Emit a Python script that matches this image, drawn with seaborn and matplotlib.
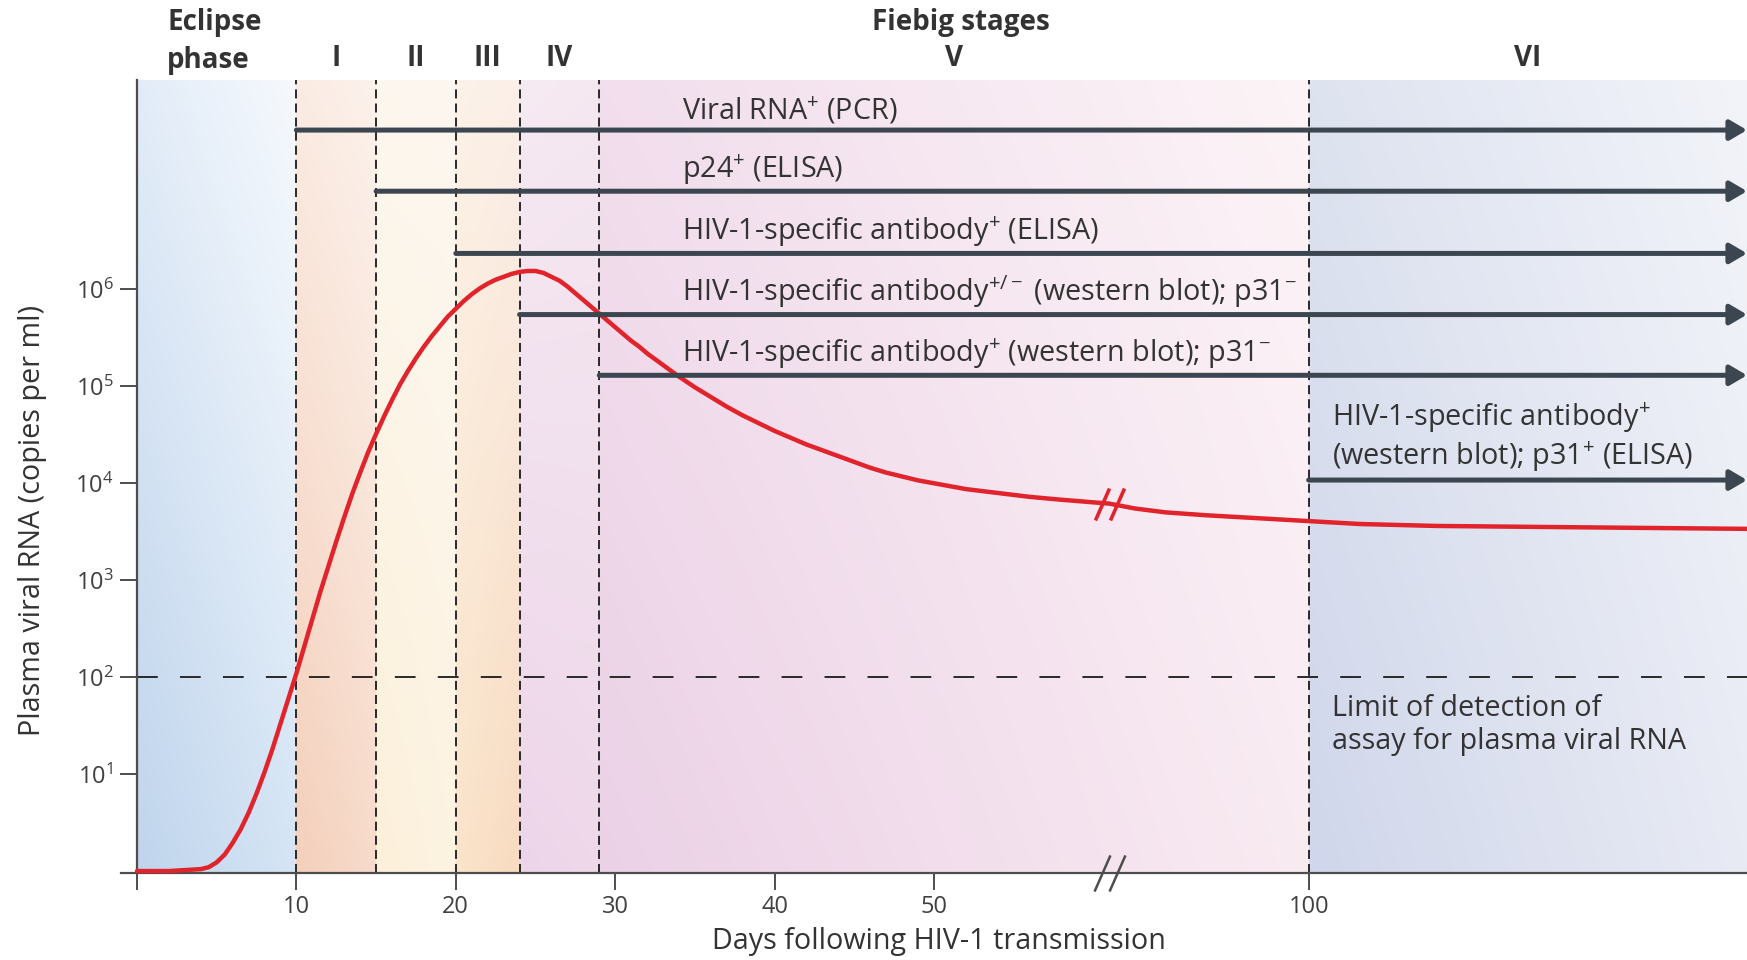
import numpy as np
import matplotlib
matplotlib.use("Agg")
import matplotlib.pyplot as plt
import seaborn as sns
from matplotlib.colors import to_rgb
from matplotlib.ticker import FixedLocator, NullLocator, LogFormatterMathtext
from matplotlib.transforms import blended_transform_factory, offset_copy

# plasma viral RNA curve (day, log10 copies per ml)
days = [0, 2, 4, 4.5, 5, 5.5, 6, 6.5, 7, 7.5, 8, 8.5, 9, 9.5, 10, 10.5, 11,
        11.5, 12, 12.5, 13, 13.5, 14, 14.5, 15, 15.5, 16, 16.5, 17, 17.5, 18,
        18.5, 19, 19.5, 20, 20.5, 21, 21.5, 22, 22.5, 23, 23.5, 24, 24.5, 25,
        25.5, 26, 26.5, 27, 27.5, 28, 28.5, 29, 29.5, 30, 30.5, 31, 31.5, 32,
        32.5, 33, 33.5, 34, 35, 36, 37, 38, 39, 40, 41, 42, 43, 44, 45, 46,
        47, 48, 49, 50, 52, 54, 56, 58, 61, 66, 72, 80, 90, 100, 110, 125,
        145, 165, 186]
log_rna = [0.0, 0.0, 0.02, 0.04, 0.09, 0.17, 0.29, 0.43, 0.6, 0.8, 1.02, 1.26,
           1.52, 1.78, 2.04, 2.32, 2.6, 2.88, 3.14, 3.4, 3.65, 3.89, 4.11,
           4.32, 4.51, 4.69, 4.86, 5.02, 5.16, 5.29, 5.41, 5.52, 5.62, 5.72,
           5.8, 5.88, 5.95, 6.01, 6.06, 6.1, 6.13, 6.16, 6.18, 6.19, 6.19,
           6.17, 6.13, 6.09, 6.03, 5.96, 5.89, 5.82, 5.75, 5.68, 5.61, 5.54,
           5.47, 5.41, 5.34, 5.28, 5.22, 5.16, 5.1, 4.99, 4.89, 4.79, 4.70,
           4.62, 4.54, 4.47, 4.40, 4.34, 4.28, 4.22, 4.16, 4.11, 4.07, 4.03,
           4.0, 3.94, 3.9, 3.86, 3.83, 3.79, 3.74, 3.70, 3.67, 3.64, 3.61,
           3.58, 3.56, 3.55, 3.54, 3.53]

# Fiebig stages (day each stage starts)
stage_names = ['I', 'II', 'III', 'IV', 'V', 'VI']
stage_starts = [10, 15, 20, 24, 29, 100]

# assay positivity arrows
assay_labels = [
    'Viral RNA$^{+}$ (PCR)',
    'p24$^{+}$ (ELISA)',
    'HIV-1-specific antibody$^{+}$ (ELISA)',
    'HIV-1-specific antibody$^{+/-}$ (western blot); p31$^{-}$',
    'HIV-1-specific antibody$^{+}$ (western blot); p31$^{-}$',
    'HIV-1-specific antibody$^{+}$\n(western blot); p31$^{+}$ (ELISA)',
]
assay_start = [10, 15, 20, 24, 29, 100]
assay_level = [4.4e7, 1.03e7, 2.35e6, 5.5e5, 1.3e5, 1.08e4]

detection_limit = 100
x_ticks = [0, 10, 20, 30, 40, 50, 100]
x_ticklabels = ['', '10', '20', '30', '40', '50', '100']
y_ticks = [1e1, 1e2, 1e3, 1e4, 1e5, 1e6]
break_day = 61
x_max = 186

# broken time axis: days after the break are squeezed
brk_days = [-50, 0, 61, 100, 186, 300]
brk_pos = [-50, 0, 61, 73.5, 101, 137.5]


def fwd(d):
    return np.interp(d, brk_days, brk_pos)


def inv(p):
    return np.interp(p, brk_pos, brk_days)


# background colours per band: bottom-left, bottom-right, top-left, top-right
band_colors = [
    ('#bfd4ec', '#d5e5f5', '#e2ecf8', '#f6f9fd'),  # eclipse
    ('#f4cfbb', '#f7dbcb', '#fbebe2', '#fcf2ec'),  # I
    ('#fcf0da', '#fdf3e2', '#fdf7ee', '#fdf7f0'),  # II
    ('#fae4ca', '#f8dbc0', '#fcf2e8', '#fbefe9'),  # III
    ('#edd5e9', '#eed8ea', '#f6eaf3', '#f5e8f1'),  # IV
    ('#ebd1e6', '#f9ebf2', '#f2deed', '#fcf4f7'),  # V
    ('#d0d6eb', '#e8ebf4', '#dee3f0', '#f2f4f9'),  # VI
]

red = '#e1232c'
arrow_c = '#3c4650'
txt_c = '#333333'
fs = 20.7

sns.set_theme(style='ticks')
plt.rcParams['font.family'] = ['Open Sans', 'DejaVu Sans']
plt.rcParams['mathtext.fontset'] = 'custom'
plt.rcParams['mathtext.rm'] = 'Open Sans'
plt.rcParams['mathtext.it'] = 'Open Sans:italic'
plt.rcParams['mathtext.bf'] = 'Open Sans:bold'

fig = plt.figure(figsize=(17.47, 9.6), dpi=100)
ax = fig.add_axes([137 / 1747, 87 / 960, 1610 / 1747, 793 / 960])

# gradient background built from the stage boundaries
W, H = 1610, 200
col_pos = fwd(0) + (np.arange(W) + 0.5) / W * (fwd(x_max) - fwd(0))
img = np.ones((H, W, 3))
v = np.linspace(1, 0, H)[:, None, None]
edges = [0] + stage_starts + [x_max]
for k in range(len(edges) - 1):
    p0, p1 = fwd(edges[k]), fwd(edges[k + 1])
    m = (col_pos >= p0) & (col_pos <= p1)
    u = ((col_pos[m] - p0) / (p1 - p0))[:, None]
    bl, br, tl, tr = [np.array(to_rgb(c)) for c in band_colors[k]]
    bottom = bl * (1 - u) + br * u
    top = tl * (1 - u) + tr * u
    img[:, m, :] = bottom[None] * (1 - v) + top[None] * v
ax.imshow(img, extent=(0, 1, 0, 1), transform=ax.transAxes, aspect='auto',
          zorder=0, interpolation='bilinear')

ax.set_xscale('function', functions=(fwd, inv))
ax.set_yscale('log')

rna = [10 ** r for r in log_rna]
sns.lineplot(x=days, y=rna, ax=ax, color=red, linewidth=3.2, zorder=4,
             clip_on=False)

for d in stage_starts:
    ax.axvline(d, color='#1a1a1a', lw=1.3, ls=(0, (5, 2.8)), zorder=2)
ax.axhline(detection_limit, color='#1a1a1a', lw=1.3, ls=(0, (11.5, 12.3)),
           zorder=2)

for lab, x0, yv in zip(assay_labels, assay_start, assay_level):
    ax.annotate('', xy=(x_max, yv), xytext=(x0, yv),
                arrowprops=dict(arrowstyle='-|>,head_length=0.85,head_width=0.5',
                                color=arrow_c, lw=3.6, mutation_scale=12,
                                shrinkA=0, shrinkB=0),
                annotation_clip=False, zorder=5)
for lab, yv in zip(assay_labels[:5], assay_level[:5]):
    ax.annotate(lab, xy=(34.2, yv), xytext=(0, 3), textcoords='offset points',
                ha='left', va='bottom', fontsize=fs, color=txt_c, zorder=6)
ax.annotate(assay_labels[5], xy=(104.6, assay_level[5]), xytext=(0, 4),
            textcoords='offset points', ha='left', va='bottom', fontsize=fs,
            color=txt_c, linespacing=1.2, zorder=6)
ax.annotate('Limit of detection of\nassay for plasma viral RNA',
            xy=(104.6, detection_limit), xytext=(0, -12),
            textcoords='offset points', ha='left', va='top', fontsize=fs,
            color=txt_c, linespacing=1.2, zorder=6)

# header labels above the plot
trans = blended_transform_factory(ax.transData, ax.transAxes)
hdr = dict(transform=trans, fontsize=20, fontweight='bold', color=txt_c,
           va='center', clip_on=False)
ax.text(1.9, 1.073, 'Eclipse', ha='left', **hdr)
ax.text(1.9, 1.024, 'phase', ha='left', **hdr)
ax.text(51.7, 1.073, 'Fiebig stages', ha='center', **hdr)
for name, a, b in zip(stage_names, stage_starts, stage_starts[1:] + [x_max]):
    mid = inv((fwd(a) + fwd(b)) / 2)
    ax.text(mid, 1.0277, name, ha='center', **hdr)

# break marks on the curve and on the time axis
slash = [(-0.22, -0.5), (0.22, 0.5)]
y_break = rna[days.index(break_day)]
for dx in (-7.5, 7.5):
    tr_axis = offset_copy(trans, fig=fig, x=dx, y=0, units='dots')
    ax.plot([break_day], [0], transform=tr_axis, marker=slash, ms=26,
            mec='#4d4d4d', mew=1.8, ls='none', clip_on=False, zorder=7)
    tr_curve = offset_copy(ax.transData, fig=fig, x=dx, y=0, units='dots')
    ax.plot([break_day], [y_break], transform=tr_curve, marker=slash, ms=23,
            mec=red, mew=2.6, ls='none', clip_on=False, zorder=7)

ax.set_xlim(0, x_max)
ax.set_ylim(10 ** -0.02, 10 ** 8.16)
ax.xaxis.set_major_locator(FixedLocator(x_ticks))
ax.set_xticklabels(x_ticklabels)
ax.xaxis.set_minor_locator(NullLocator())
ax.yaxis.set_major_locator(FixedLocator(y_ticks))
ax.yaxis.set_major_formatter(LogFormatterMathtext())
ax.yaxis.set_minor_locator(NullLocator())

sns.despine(ax=ax)
for s in ('left', 'bottom'):
    ax.spines[s].set_color('#4d4d4d')
    ax.spines[s].set_linewidth(1.6)
ax.spines['bottom'].set_bounds(-1, x_max)
ax.tick_params(axis='both', direction='out', length=12, width=1.4,
               color='#4d4d4d', labelsize=17, labelcolor='#404040', pad=4)
ax.tick_params(axis='y', pad=5)

ax.set_xlabel('Days following HIV-1 transmission', fontsize=fs, color=txt_c,
              va='center')
ax.xaxis.set_label_coords(0.498, -0.0858)
ax.set_ylabel('Plasma viral RNA (copies per ml)', fontsize=fs, color=txt_c,
              va='center')
ax.yaxis.set_label_coords(-0.0646, 0.445)
ax.grid(False)

fig.savefig('out.png', dpi=100)
